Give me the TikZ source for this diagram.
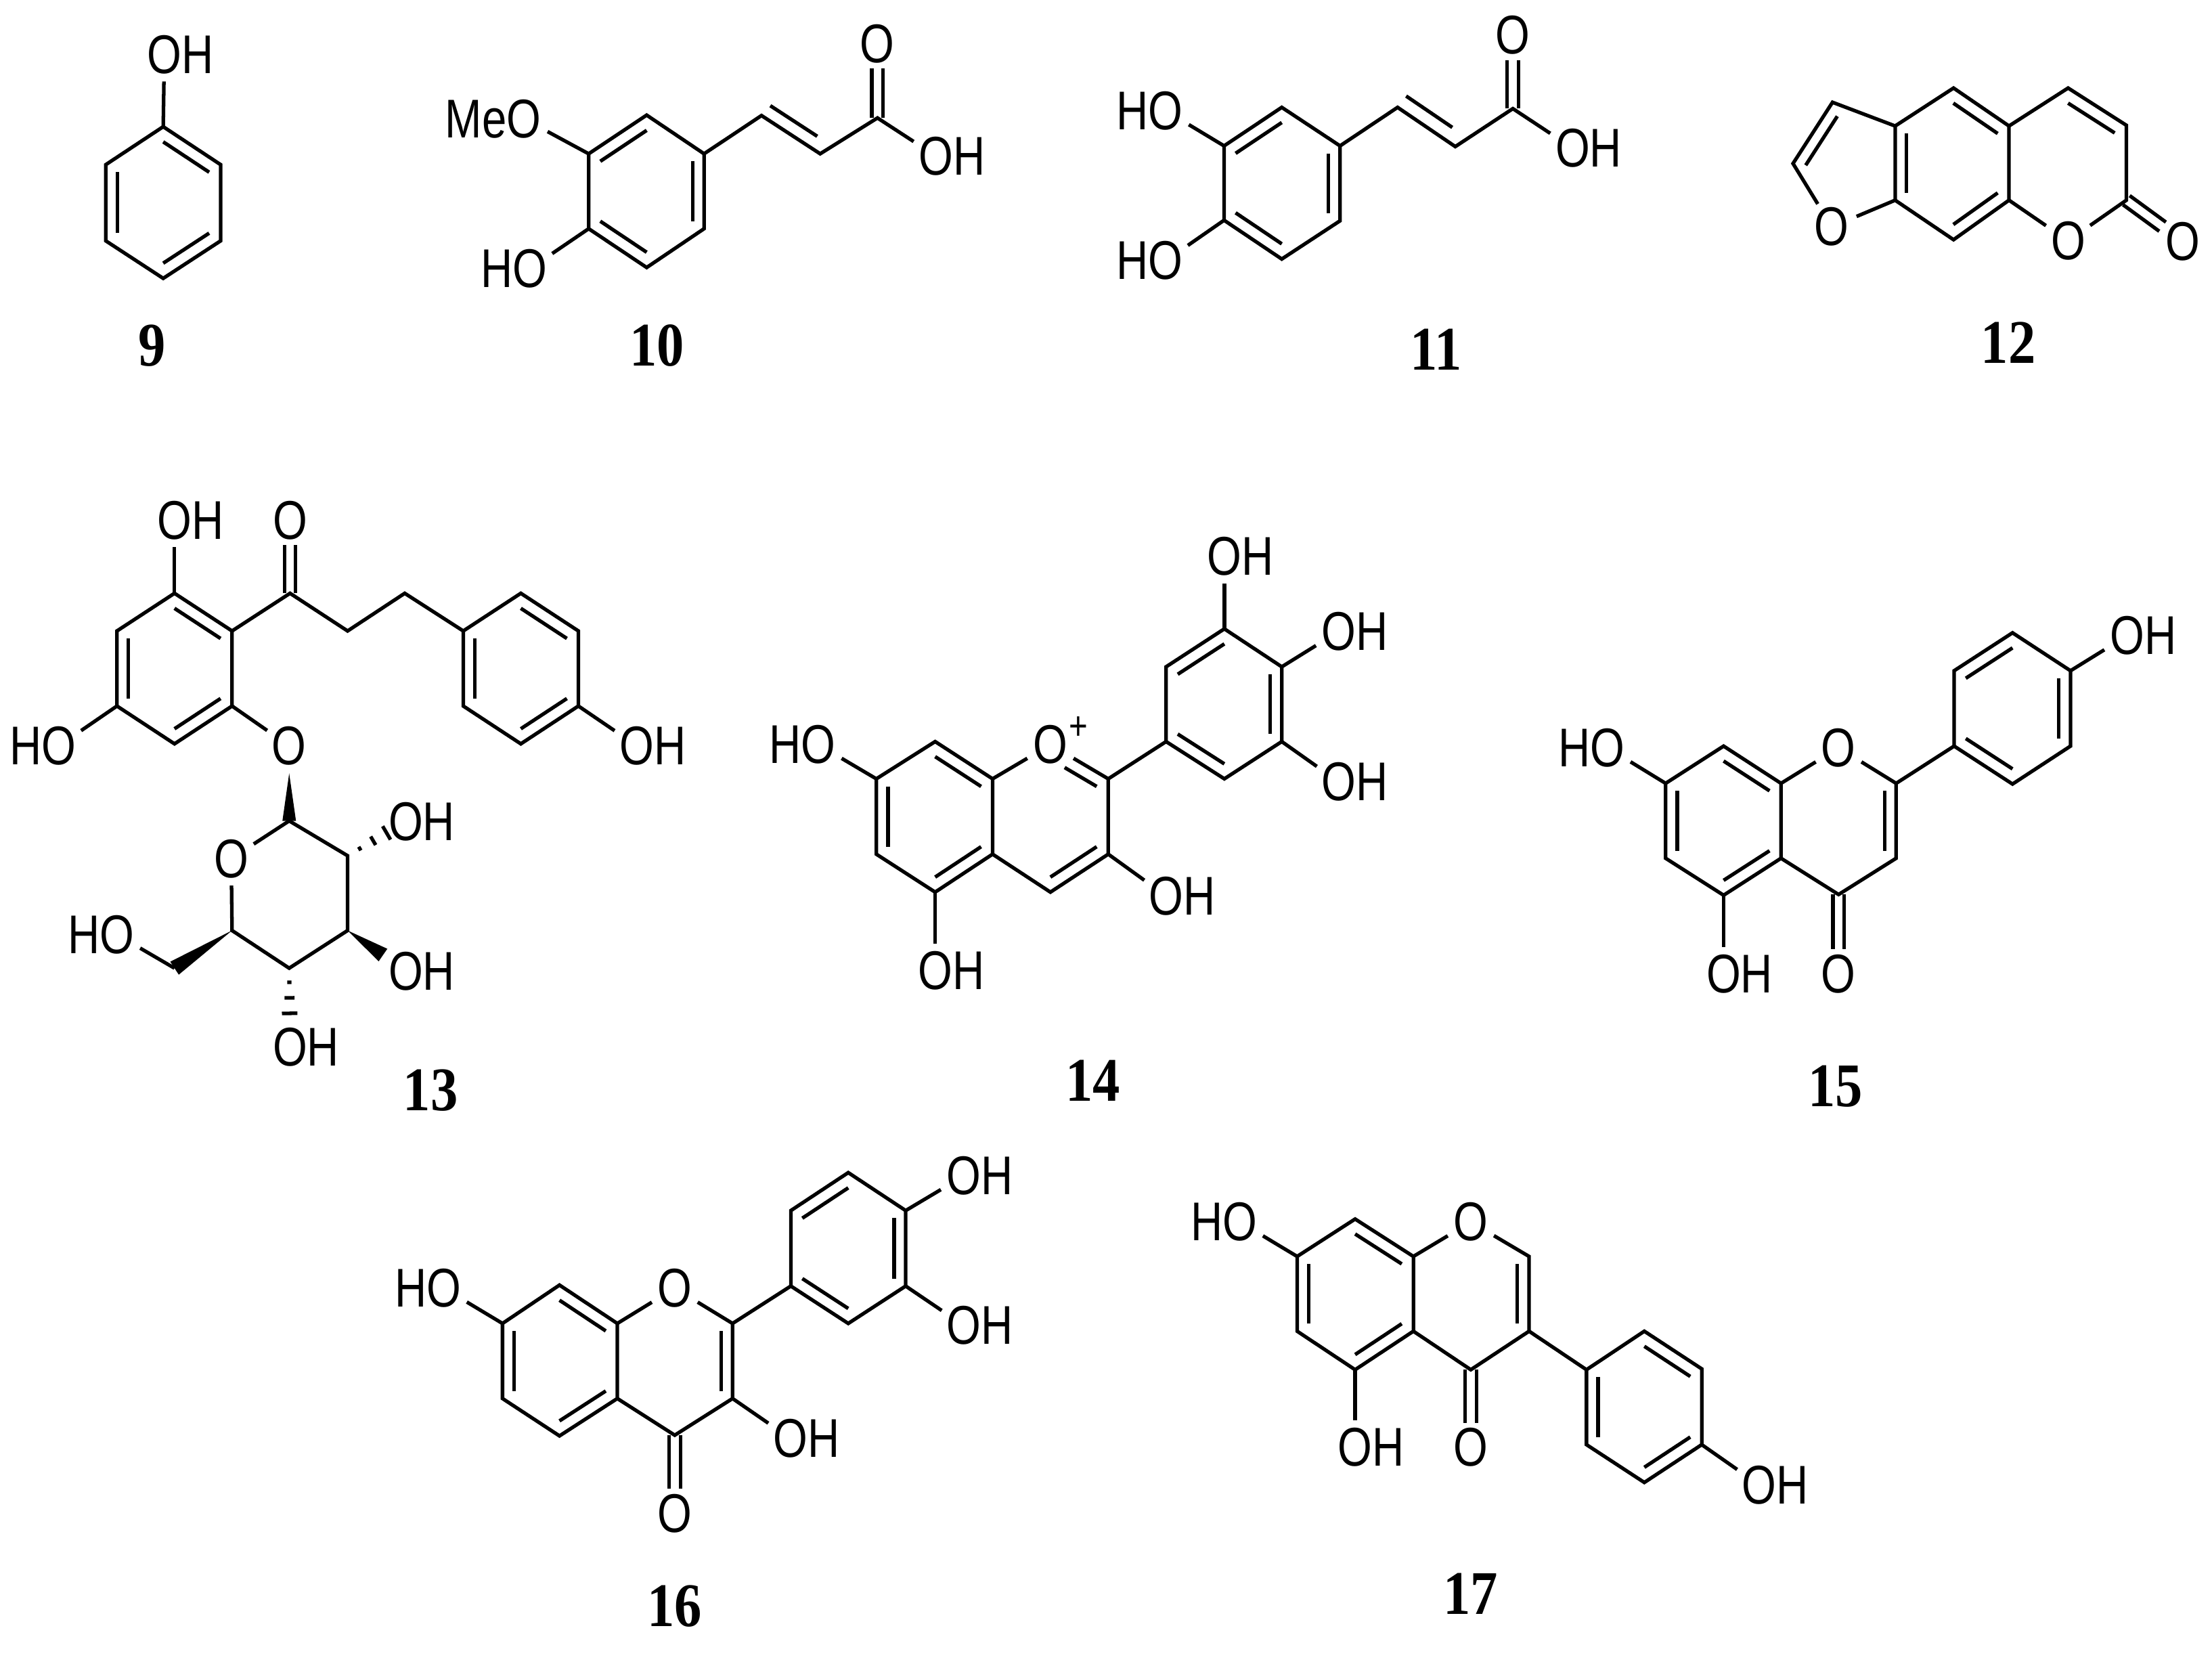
\documentclass[tikz,border=0pt]{standalone}
\usepackage{fontspec}
\usepackage{tikz}
\usetikzlibrary{calc}
\newfontfamily\atomfont[FakeStretch=0.81]{Liberation Sans}
\newfontfamily\numfont[FakeStretch=0.88]{Liberation Serif}
\tikzset{
	atom/.style={circle, inner sep=0pt, font=\atomfont\fontsize{11}{12}\selectfont},
	charge/.style={inner sep=0pt, font=\atomfont\fontsize{8}{8}\selectfont},
	num/.style={inner sep=0pt, font=\numfont\bfseries\fontsize{12.5}{14}\selectfont},
	bond/.style={line width=0.72pt, black},
}
\newcommand{\inring}[4][]{\draw[bond,#1] ($(#2)!0.2!(#4)$) -- ($(#3)!0.2!(#4)$);}
\newcommand{\dbond}[2]{%
	\coordinate (tip) at ($(#2)!0.175cm!(#1)$);
	\draw[bond] ($(#1)!0.04cm!90:(tip)$) -- ($(tip)!0.04cm!-90:(#1)$);
	\draw[bond] ($(#1)!0.04cm!-90:(tip)$) -- ($(tip)!0.04cm!90:(#1)$);}
\newcommand{\wedgebond}[3]{\fill[black] (#1) -- ($(#2)!#3!90:(#1)$) -- ($(#2)!#3!-90:(#1)$) -- cycle;}
\newcommand{\hashbond}[2]{%
	\foreach \dd/\ww in {0.1/0.015,0.21/0.035,0.32/0.055}{
		\coordinate (tick) at ($(#1)!\dd cm!(#2)$);
		\draw[bond] ($(tick)!\ww cm!90:(#2)$) -- ($(tick)!\ww cm!-90:(#2)$);
	}}
\begin{document}
\begin{tikzpicture}[x=0.01cm,y=-0.01cm]
	\useasboundingbox (0,0) rectangle (1568,1179);
	%\draw[thin, gray!25] (0,0) grid[step=100] (1568,1179);
	% 9
	\coordinate (9a) at (115.7,89.8); \coordinate (9b) at (156.4,116.7); \coordinate (9c) at (156.4,170.7);
	\coordinate (9d) at (115.7,197.3); \coordinate (9e) at (75,170.7); \coordinate (9f) at (75,116.7);
	\coordinate (9m) at (115.7,143.5);
	\node[atom] (9oh) at (116.5,38.7) {O\rlap{H}};
	\draw[bond] (9a) -- (9b) -- (9c) -- (9d) -- (9e) -- (9f) -- cycle;
	\draw[bond] (9a) -- (9oh);
	\inring{9a}{9b}{9m} \inring{9c}{9d}{9m} \inring{9e}{9f}{9m}
	\node[num] (9n) at (108,244.8) {9};
	% 10
	\coordinate (10a) at (458.4,81.6); \coordinate (10b) at (499.1,109); \coordinate (10c) at (499.1,162.1);
	\coordinate (10d) at (458.4,189.6); \coordinate (10e) at (417.3,162.1); \coordinate (10f) at (417.3,109);
	\coordinate (10g) at (539.8,81.9); \coordinate (10h) at (581.4,109); \coordinate (10i) at (622,83.6);
	\coordinate (10m) at (458.4,135.6); \coordinate (10p) at (571,47);
	\node[atom] (10o) at (622,31) {O};
	\node[atom] (10oh) at (663.6,110.7) {O\rlap{H}};
	\node[atom] (10ome) at (371.4,84.2) {\llap{Me}O};
	\node[atom] (10ho) at (375.7,190.4) {\llap{H}O};
	\draw[bond] (10a) -- (10b) -- (10c) -- (10d) -- (10e) -- (10f) -- cycle;
	\draw[bond] (10b) -- (10g) -- (10h) -- (10i) -- (10oh);
	\draw[bond] (10f) -- (10ome);
	\draw[bond] (10e) -- (10ho);
	\inring{10f}{10a}{10m} \inring{10b}{10c}{10m} \inring{10e}{10d}{10m}
	\inring{10g}{10h}{10p}
	\dbond{10i}{10o}
	\node[num] (10n) at (465.7,244.8) {10};
	% 11
	\coordinate (11a) at (908.6,76.1); \coordinate (11b) at (949.9,103.4); \coordinate (11c) at (949.9,156.5);
	\coordinate (11d) at (908.6,183.6); \coordinate (11e) at (867.7,156.1); \coordinate (11f) at (867.7,103.4);
	\coordinate (11g) at (990.7,76.1); \coordinate (11h) at (1031.6,103.9); \coordinate (11i) at (1072.4,77);
	\coordinate (11m) at (908.6,129.8); \coordinate (11p) at (1021,36);
	\node[atom] (11o) at (1072.4,25) {O};
	\node[atom] (11oh) at (1114.8,105) {O\rlap{H}};
	\node[atom] (11hoa) at (826.4,78.5) {\llap{H}O};
	\node[atom] (11hob) at (826.4,184.8) {\llap{H}O};
	\draw[bond] (11a) -- (11b) -- (11c) -- (11d) -- (11e) -- (11f) -- cycle;
	\draw[bond] (11b) -- (11g) -- (11h) -- (11i) -- (11oh);
	\draw[bond] (11f) -- (11hoa);
	\draw[bond] (11e) -- (11hob);
	\inring{11f}{11a}{11m} \inring{11b}{11c}{11m} \inring{11e}{11d}{11m}
	\inring{11g}{11h}{11p}
	\dbond{11i}{11o}
	\node[num] (11n) at (1017.8,247.8) {11};
	% 12
	\coordinate (12a) at (1384.8,62.4); \coordinate (12b) at (1424.1,89.3); \coordinate (12c) at (1424.1,141.9);
	\coordinate (12d) at (1384.8,169.9); \coordinate (12e) at (1343.4,141.9); \coordinate (12f) at (1343.4,89.3);
	\coordinate (12g) at (1299,72.5); \coordinate (12h) at (1271,115.9);
	\coordinate (12i) at (1466,62.4); \coordinate (12j) at (1507.3,88.8); \coordinate (12k) at (1507.3,141.9);
	\coordinate (12m) at (1384,116); \coordinate (12p) at (1316,122); \coordinate (12q) at (1466,116);
	\node[atom] (12oa) at (1298.5,160.8) {O};
	\node[atom] (12ob) at (1466,170.7) {O};
	\node[atom] (12oc) at (1547.1,171) {O};
	\draw[bond] (12a) -- (12b) -- (12c) -- (12d) -- (12e) -- (12f) -- cycle;
	\draw[bond] (12f) -- (12g) -- (12h) -- (12oa) -- (12e);
	\draw[bond] (12b) -- (12i) -- (12j) -- (12k) -- (12ob) -- (12c);
	\inring{12a}{12b}{12m} \inring{12f}{12e}{12m} \inring{12d}{12c}{12m}
	\inring{12g}{12h}{12p} \inring{12i}{12j}{12q}
	\dbond{12k}{12oc}
	\node[num] (12n) at (1423.6,242.7) {12};
	% 13
	\coordinate (13a) at (123.7,420.5); \coordinate (13b) at (164.5,447.2); \coordinate (13c) at (164.5,500.4);
	\coordinate (13d) at (123.7,527.2); \coordinate (13e) at (82.9,500.4); \coordinate (13f) at (82.9,447.2);
	\coordinate (13g) at (205.6,420.5); \coordinate (13h) at (246.4,447.2); \coordinate (13i) at (286.9,420.5);
	\coordinate (13j) at (328.4,447.2); \coordinate (13k) at (369.2,420.5); \coordinate (13l) at (410,447.2);
	\coordinate (13p) at (410,500.4); \coordinate (13q) at (369.2,527.2); \coordinate (13r) at (328.4,500.4);
	\coordinate (13m) at (123.7,473.8); \coordinate (13t) at (369.2,473.8);
	\coordinate (13s1) at (205,581.8); \coordinate (13s2) at (246.4,606.5); \coordinate (13s3) at (246.4,659.5);
	\coordinate (13s4) at (205,686.2); \coordinate (13s5) at (164.5,659.5); \coordinate (13s6) at (123.7,686.2);
	\coordinate (13w1) at (205,548.1); \coordinate (13w2) at (271.5,676.9);
	\node[atom] (13oha) at (123.7,368.8) {O\rlap{H}};
	\node[atom] (13ok) at (205.6,368.8) {O};
	\node[atom] (13hob) at (41.8,528.6) {\llap{H}O};
	\node[atom] (13ohc) at (451.4,528.6) {O\rlap{H}};
	\node[atom] (13og) at (205,528.6) {O};
	\node[atom] (13os) at (163.9,608.6) {O};
	\node[atom] (13ohd) at (287.6,582.4) {O\rlap{H}};
	\node[atom] (13ohe) at (287.6,688.5) {O\rlap{H}};
	\node[atom] (13ohf) at (205.6,742.3) {O\rlap{H}};
	\node[atom] (13hog) at (82.9,662.4) {\llap{H}O};
	\draw[bond] (13a) -- (13b) -- (13c) -- (13d) -- (13e) -- (13f) -- cycle;
	\draw[bond] (13j) -- (13k) -- (13l) -- (13p) -- (13q) -- (13r) -- cycle;
	\draw[bond] (13b) -- (13g) -- (13h) -- (13i) -- (13j);
	\draw[bond] (13a) -- (13oha);
	\draw[bond] (13e) -- (13hob);
	\draw[bond] (13p) -- (13ohc);
	\draw[bond] (13c) -- (13og);
	\dbond{13g}{13ok}
	\inring{13a}{13b}{13m} \inring{13f}{13e}{13m} \inring{13c}{13d}{13m}
	\inring{13k}{13l}{13t} \inring{13j}{13r}{13t} \inring{13p}{13q}{13t}
	\draw[bond] (13os) -- (13s1) -- (13s2) -- (13s3) -- (13s4) -- (13s5) -- (13os);
	\draw[bond] (13s6) -- (13hog);
	\wedgebond{13w1}{13s1}{0.048cm}
	\wedgebond{13s3}{13w2}{0.054cm}
	\wedgebond{13s5}{13s6}{0.055cm}
	\hashbond{13s2}{13ohd}
	\hashbond{13s4}{13ohf}
	\node[num] (13n) at (305.2,772.8) {13};
	% 14
	\coordinate (14a) at (662.9,525.6); \coordinate (14b) at (703.6,552); \coordinate (14c) at (703.6,605.4);
	\coordinate (14d) at (662.9,632.3); \coordinate (14e) at (621.2,605.4); \coordinate (14f) at (621.2,552);
	\coordinate (14g) at (785.6,552); \coordinate (14h) at (785.6,605.4); \coordinate (14i) at (744.6,632.3);
	\coordinate (14j) at (826.6,525.6); \coordinate (14k) at (867.9,552); \coordinate (14l) at (908.6,525.6);
	\coordinate (14p) at (908.6,472.6); \coordinate (14q) at (867.9,445.7); \coordinate (14r) at (826.6,472.6);
	\coordinate (14m) at (662.9,579); \coordinate (14s) at (744.6,579); \coordinate (14t) at (867.9,499);
	\node[atom] (14o) at (744.6,527.8) {O};
	\node[charge] (14plus) at (764.5,516.2) {+};
	\node[atom] (14oha) at (867.9,394.5) {O\rlap{H}};
	\node[atom] (14ohb) at (949,447.5) {O\rlap{H}};
	\node[atom] (14ohc) at (949,554.2) {O\rlap{H}};
	\node[atom] (14ohd) at (826.6,635) {O\rlap{H}};
	\node[atom] (14ohe) at (662.9,688) {O\rlap{H}};
	\node[atom] (14hof) at (580.2,527.8) {\llap{H}O};
	\draw[bond] (14a) -- (14b) -- (14c) -- (14d) -- (14e) -- (14f) -- cycle;
	\draw[bond] (14b) -- (14o) -- (14g) -- (14h) -- (14i) -- (14c);
	\draw[bond] (14j) -- (14k) -- (14l) -- (14p) -- (14q) -- (14r) -- cycle;
	\draw[bond] (14g) -- (14j);
	\draw[bond] (14q) -- (14oha);
	\draw[bond] (14p) -- (14ohb);
	\draw[bond] (14l) -- (14ohc);
	\draw[bond] (14h) -- (14ohd);
	\draw[bond] (14d) -- (14ohe);
	\draw[bond] (14f) -- (14hof);
	\inring{14a}{14b}{14m} \inring{14f}{14e}{14m} \inring{14c}{14d}{14m}
	\inring[shorten <=0.117cm]{14o}{14g}{14s} \inring{14h}{14i}{14s}
	\inring{14r}{14q}{14t} \inring{14p}{14l}{14t} \inring{14j}{14k}{14t}
	\node[num] (14n) at (774.6,766.1) {14};
	% 15
	\coordinate (15a) at (1221.8,528.8); \coordinate (15b) at (1262.5,555.2); \coordinate (15c) at (1262.5,608.3);
	\coordinate (15d) at (1221.8,634.5); \coordinate (15e) at (1180.7,608.3); \coordinate (15f) at (1180.7,555.2);
	\coordinate (15g) at (1344.1,555.2); \coordinate (15h) at (1344.1,608.3); \coordinate (15i) at (1303.3,634);
	\coordinate (15j) at (1385.2,528.8); \coordinate (15k) at (1426.6,555.7); \coordinate (15l) at (1467.7,528.8);
	\coordinate (15p) at (1467.7,475.4); \coordinate (15q) at (1426.6,448.5); \coordinate (15r) at (1385.2,475.4);
	\coordinate (15m) at (1221.8,581.7); \coordinate (15s) at (1303.3,582); \coordinate (15t) at (1426.6,502);
	\node[atom] (15o) at (1303.3,530) {O};
	\node[atom] (15x) at (1303.3,690.4) {O};
	\node[atom] (15oha) at (1221.8,690.4) {O\rlap{H}};
	\node[atom] (15hob) at (1139.6,530) {\llap{H}O};
	\node[atom] (15ohc) at (1507.9,450.5) {O\rlap{H}};
	\draw[bond] (15a) -- (15b) -- (15c) -- (15d) -- (15e) -- (15f) -- cycle;
	\draw[bond] (15b) -- (15o) -- (15g) -- (15h) -- (15i) -- (15c);
	\draw[bond] (15j) -- (15k) -- (15l) -- (15p) -- (15q) -- (15r) -- cycle;
	\draw[bond] (15g) -- (15j);
	\draw[bond] (15d) -- (15oha);
	\draw[bond] (15f) -- (15hob);
	\draw[bond] (15p) -- (15ohc);
	\dbond{15i}{15x}
	\inring{15a}{15b}{15m} \inring{15f}{15e}{15m} \inring{15c}{15d}{15m}
	\inring{15g}{15h}{15s}
	\inring{15r}{15q}{15t} \inring{15p}{15l}{15t} \inring{15j}{15k}{15t}
	\node[num] (15n) at (1301,770) {15};
	% 16
	\coordinate (16a) at (396.6,910.8); \coordinate (16b) at (437.6,938); \coordinate (16c) at (437.6,991.2);
	\coordinate (16d) at (396.6,1017.7); \coordinate (16e) at (356.2,991.2); \coordinate (16f) at (356.2,938);
	\coordinate (16g) at (519.3,938); \coordinate (16h) at (519.3,991.2); \coordinate (16i) at (478.3,1017.2);
	\coordinate (16j) at (560.6,911.5); \coordinate (16k) at (601.3,938); \coordinate (16l) at (642,911.5);
	\coordinate (16p) at (642,858); \coordinate (16q) at (601.3,831.1); \coordinate (16r) at (560.6,858);
	\coordinate (16m) at (396.6,964.5); \coordinate (16s) at (478.3,965); \coordinate (16t) at (601.3,885);
	\node[atom] (16o) at (478.3,913) {O};
	\node[atom] (16x) at (478.3,1072.7) {O};
	\node[atom] (16oha) at (560.3,1019.5) {O\rlap{H}};
	\node[atom] (16hob) at (314.6,913) {\llap{H}O};
	\node[atom] (16ohc) at (683.3,833.4) {O\rlap{H}};
	\node[atom] (16ohd) at (683.3,939.5) {O\rlap{H}};
	\draw[bond] (16a) -- (16b) -- (16c) -- (16d) -- (16e) -- (16f) -- cycle;
	\draw[bond] (16b) -- (16o) -- (16g) -- (16h) -- (16i) -- (16c);
	\draw[bond] (16j) -- (16k) -- (16l) -- (16p) -- (16q) -- (16r) -- cycle;
	\draw[bond] (16g) -- (16j);
	\draw[bond] (16h) -- (16oha);
	\draw[bond] (16f) -- (16hob);
	\draw[bond] (16p) -- (16ohc);
	\draw[bond] (16l) -- (16ohd);
	\dbond{16i}{16x}
	\inring{16a}{16b}{16m} \inring{16f}{16e}{16m} \inring{16c}{16d}{16m}
	\inring{16g}{16h}{16s}
	\inring{16r}{16q}{16t} \inring{16p}{16l}{16t} \inring{16j}{16k}{16t}
	\node[num] (16n) at (478.3,1138.3) {16};
	% 17
	\coordinate (17a) at (960.6,864); \coordinate (17b) at (1001.9,890.5); \coordinate (17c) at (1001.9,943.5);
	\coordinate (17d) at (960.6,970.8); \coordinate (17e) at (919.5,943.5); \coordinate (17f) at (919.5,890.5);
	\coordinate (17g) at (1083.9,890.5); \coordinate (17h) at (1083.9,943.5); \coordinate (17i) at (1042.6,970.8);
	\coordinate (17j) at (1124.6,970.8); \coordinate (17k) at (1165.6,943.5); \coordinate (17l) at (1206.3,970.2);
	\coordinate (17p) at (1206.3,1023.9); \coordinate (17q) at (1165.6,1050.7); \coordinate (17r) at (1124.6,1023.9);
	\coordinate (17m) at (960.6,917); \coordinate (17s) at (1042.6,917); \coordinate (17t) at (1165.6,997);
	\node[atom] (17o) at (1042.6,866.1) {O};
	\node[atom] (17x) at (1042.6,1025.9) {O};
	\node[atom] (17oha) at (960.6,1025.9) {O\rlap{H}};
	\node[atom] (17hob) at (878.9,866.1) {\llap{H}O};
	\node[atom] (17ohc) at (1247,1052.4) {O\rlap{H}};
	\draw[bond] (17a) -- (17b) -- (17c) -- (17d) -- (17e) -- (17f) -- cycle;
	\draw[bond] (17b) -- (17o) -- (17g) -- (17h) -- (17i) -- (17c);
	\draw[bond] (17j) -- (17k) -- (17l) -- (17p) -- (17q) -- (17r) -- cycle;
	\draw[bond] (17h) -- (17j);
	\draw[bond] (17d) -- (17oha);
	\draw[bond] (17f) -- (17hob);
	\draw[bond] (17p) -- (17ohc);
	\dbond{17i}{17x}
	\inring{17a}{17b}{17m} \inring{17f}{17e}{17m} \inring{17c}{17d}{17m}
	\inring{17g}{17h}{17s}
	\inring{17k}{17l}{17t} \inring{17j}{17r}{17t} \inring{17p}{17q}{17t}
	\node[num] (17n) at (1042.6,1129.4) {17};
\end{tikzpicture}
\end{document}
